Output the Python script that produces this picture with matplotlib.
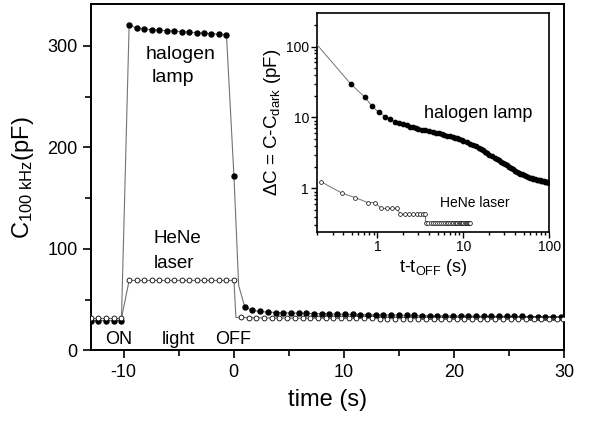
import matplotlib
matplotlib.use("Agg")
import matplotlib.pyplot as plt
from matplotlib.ticker import MultipleLocator, LogLocator, NullFormatter

plt.rcParams['font.family'] = ['Liberation Sans', 'DejaVu Sans']
plt.rcParams['mathtext.fontset'] = 'custom'
plt.rcParams['mathtext.rm'] = 'Liberation Sans'
plt.rcParams['mathtext.it'] = 'Liberation Sans:italic'
plt.rcParams['axes.unicode_minus'] = False

# ---- main panel data (time in s, capacitance in pF) ----
t_dark = [-13.0, -12.3, -11.6, -10.9, -10.2]
t_on = [-9.5, -8.82, -8.14, -7.46, -6.78, -6.10, -5.42, -4.74, -4.06, -3.38,
        -2.70, -2.02, -1.34, -0.66, 0.02]

hal_t_off = [0.45, 1.0, 1.7, 2.4, 3.1, 3.8, 4.5, 5.2, 5.9, 6.6, 7.3, 8.0, 8.7, 9.4,
             10.1, 10.8, 11.5, 12.2, 12.9, 13.6, 14.3, 15.0, 15.7, 16.4, 17.1,
             17.8, 18.5, 19.2, 19.9, 20.6, 21.3, 22.0, 22.7, 23.4, 24.1, 24.8,
             25.5, 26.2, 26.9, 27.6, 28.3, 29.0, 29.7]
hal_dark = [29.5, 29.5, 29.5, 29.5, 29.5]
hal_on = [320.5, 317.5, 316.5, 316, 315.5, 315, 314.5, 314, 313.5, 313, 312.5,
          312, 311.5, 311, 172]
hal_off = [64, 43, 39.4, 38.4, 37.8, 37.4, 37.2, 36.9, 36.8, 36.6, 36.4, 36.2,
           36.0, 35.8, 35.7, 35.5, 35.4, 35.2, 35.1, 35.0, 34.9, 34.8, 34.6,
           34.5, 34.4, 34.3, 34.2, 34.1, 34.0, 34.0, 33.9, 33.8, 33.8, 33.7,
           33.6, 33.6, 33.5, 33.5, 33.4, 33.4, 33.3, 33.3, 33.2]

hene_t_off = [0.2, 0.65, 1.35, 2.05, 2.75, 3.45, 4.15, 4.85, 5.55, 6.25, 6.95,
              7.65, 8.35, 9.05, 9.75, 10.45, 11.15, 11.85, 12.55, 13.25, 13.95,
              14.65, 15.35, 16.05, 16.75, 17.45, 18.15, 18.85, 19.55, 20.25,
              20.95, 21.65, 22.35, 23.05, 23.75, 24.45, 25.15, 25.85, 26.55,
              27.25, 27.95, 28.65, 29.35, 29.95]
hene_dark = [31.5, 31.5, 31.5, 31.5, 31.5]
hene_on = [69, 69, 69, 69, 69, 69, 69, 69, 69, 69, 69, 69, 69, 69, 69]
hene_off = [32.5, 32.5, 32.3, 32.2, 32.1, 32.0, 32.0, 31.9, 31.9, 31.8, 31.8,
            31.7, 31.7, 31.6, 31.6, 31.6, 31.5, 31.5, 31.5, 31.4, 31.4, 31.4,
            31.4, 31.3, 31.3, 31.3, 31.3, 31.3, 31.2, 31.2, 31.2, 31.2, 31.2,
            31.1, 31.1, 31.1, 31.1, 31.1, 31.0, 31.0, 31.0, 31.0, 31.0, 31.0]

# ---- inset data (t - t_OFF in s, C - C_dark in pF) ----
ins_hal_t = [0.2, 0.49, 0.71, 0.86, 1.03, 1.24, 1.40, 1.58, 1.80,
             2.0, 2.2, 2.4, 2.6, 2.8, 3.0, 3.3, 3.6, 4.0, 4.4, 4.8, 5.2, 5.6,
             6.0, 6.5, 7.0, 7.5, 8.0, 8.5, 9.0, 9.5, 10, 11, 12, 13, 14, 15,
             16, 17, 18, 19, 20, 21.5, 23, 24.5, 26, 27.5, 29, 30.5, 32, 34,
             36, 38, 40, 42, 44, 46, 48, 50, 53, 56, 59, 62, 65, 68, 71, 74,
             77, 80, 83, 86, 89, 92, 95, 98, 100]
ins_hal_c = [105, 29.6, 19.4, 14.6, 11.8, 10.3, 9.4, 8.7, 8.3,
             8.0, 7.7, 7.45, 7.25, 7.05, 6.9, 6.7, 6.55, 6.4, 6.25, 6.1, 5.95,
             5.8, 5.7, 5.55, 5.45, 5.3, 5.15, 5.05, 4.9, 4.8, 4.65, 4.45, 4.25,
             4.05, 3.9, 3.75, 3.6, 3.45, 3.3, 3.15, 3.0, 2.85, 2.72, 2.6, 2.48,
             2.38, 2.28, 2.2, 2.12, 2.02, 1.94, 1.86, 1.78, 1.72, 1.66, 1.61,
             1.57, 1.53, 1.48, 1.44, 1.41, 1.38, 1.36, 1.34, 1.32, 1.3, 1.29,
             1.27, 1.26, 1.25, 1.24, 1.23, 1.22, 1.21, 1.2]

ins_hene_t = [0.22, 0.39, 0.55, 0.77, 0.94, 1.10, 1.29, 1.47, 1.68,
              1.85, 2.1, 2.35, 2.6, 2.85, 3.1, 3.35, 3.6,
              3.65, 3.9, 4.15, 4.4, 4.65, 4.9, 5.2, 5.5, 5.8, 6.1, 6.4, 6.7,
              7.0, 7.3, 7.6, 7.9, 8.2, 8.5, 8.8, 9.1, 9.4, 9.7, 10.0, 10.3,
              10.6, 10.9, 11.2, 11.5, 11.85]
ins_hene_c = [1.24, 0.85, 0.74, 0.63, 0.63, 0.52, 0.52, 0.52, 0.52,
              0.43, 0.43, 0.43, 0.43, 0.43, 0.43, 0.43, 0.43,
              0.32, 0.32, 0.32, 0.32, 0.32, 0.32, 0.32, 0.32, 0.32, 0.32, 0.32,
              0.32, 0.32, 0.32, 0.32, 0.32, 0.32, 0.32, 0.32, 0.32, 0.32, 0.32,
              0.32, 0.32, 0.32, 0.32, 0.32, 0.32, 0.32]

line_col = '0.45'

fig = plt.figure(figsize=(5.91, 4.21), dpi=100)
ax = fig.add_axes([0.1533, 0.1675, 0.801, 0.8225])

hal_t = t_dark + t_on + hal_t_off
hal_c = hal_dark + hal_on + hal_off
hene_t = t_dark + t_on + hene_t_off
hene_c = hene_dark + hene_on + hene_off

# skip markers on the fast transition points
hal_marks = [i for i in range(len(hal_t)) if i != len(t_dark) + len(t_on)]
hene_marks = [i for i in range(len(hene_t)) if i != len(t_dark) + len(t_on)]

ax.plot(hal_t, hal_c, color=line_col, lw=0.8, marker='o', ms=3.6,
        mfc='black', mec='black', markevery=hal_marks, zorder=3)
ax.plot(hene_t, hene_c, color=line_col, lw=0.8, marker='o', ms=3.5,
        mfc='white', mec='black', mew=0.6, markevery=hene_marks, zorder=3)

ax.set_xlim(-13, 30)
ax.set_ylim(0, 341)
ax.xaxis.set_major_locator(MultipleLocator(10))
ax.xaxis.set_minor_locator(MultipleLocator(5))
ax.yaxis.set_major_locator(MultipleLocator(100))
ax.yaxis.set_minor_locator(MultipleLocator(50))
ax.tick_params(which='both', direction='out', top=False, right=False,
               labelsize=13, width=1.2)
ax.tick_params(which='major', length=6)
ax.tick_params(which='minor', length=4)
for s in ax.spines.values():
    s.set_linewidth(1.4)

ax.set_xlabel('time (s)', fontsize=17, labelpad=6)
ax.set_ylabel(r'C$_{\mathrm{100\ kHz}}$(pF)', fontsize=17, labelpad=8)

ax.text(-8.0, 287, 'halogen', fontsize=14, va='baseline')
ax.text(-7.5, 264, 'lamp', fontsize=14, va='baseline')
ax.text(-7.3, 106, 'HeNe', fontsize=13.5, va='baseline')
ax.text(-7.3, 81, 'laser', fontsize=13.5, va='baseline')
ax.text(-11.7, 6.4, 'ON', fontsize=13, va='baseline')
ax.text(-6.55, 6.4, 'light', fontsize=13, va='baseline')
ax.text(-1.7, 6.4, 'OFF', fontsize=13, va='baseline')

# ---- inset ----
ins = fig.add_axes([0.537, 0.4496, 0.3926, 0.5188])
ins.plot(ins_hal_t, ins_hal_c, color=line_col, lw=0.7, marker='o', ms=3.1,
         mfc='black', mec='black', markevery=list(range(1, len(ins_hal_t))),
         zorder=3)
ins.plot(ins_hene_t, ins_hene_c, color=line_col, lw=0.7, marker='o', ms=2.7,
         mfc='white', mec='black', mew=0.5, zorder=3)
ins.set_xscale('log')
ins.set_yscale('log')
ins.set_xlim(0.2, 100)
ins.set_ylim(0.244, 295)
ins.set_xticks([1, 10, 100], ['1', '10', '100'])
ins.set_yticks([1, 10, 100], ['1', '10', '100'])
ins.xaxis.set_minor_locator(LogLocator(base=10, subs=range(2, 10)))
ins.yaxis.set_minor_locator(LogLocator(base=10, subs=range(2, 10)))
ins.xaxis.set_minor_formatter(NullFormatter())
ins.yaxis.set_minor_formatter(NullFormatter())
ins.tick_params(which='both', direction='out', top=False, right=False,
                labelsize=10, width=1.0, pad=2)
ins.tick_params(which='major', length=4)
ins.tick_params(which='minor', length=2.5)
for s in ins.spines.values():
    s.set_linewidth(1.2)

ins.set_xlabel(r't-t$_{\mathrm{OFF}}$ (s)', fontsize=13, labelpad=2)
ins.set_ylabel(r'ΔC = C-C$_{\mathrm{dark}}$ (pF)', fontsize=13.5, labelpad=2)
ins.text(3.52, 9.75, 'halogen lamp', fontsize=13, va='baseline')
ins.text(5.36, 0.55, 'HeNe laser', fontsize=10, va='baseline')

fig.savefig('out.png', dpi=100)
